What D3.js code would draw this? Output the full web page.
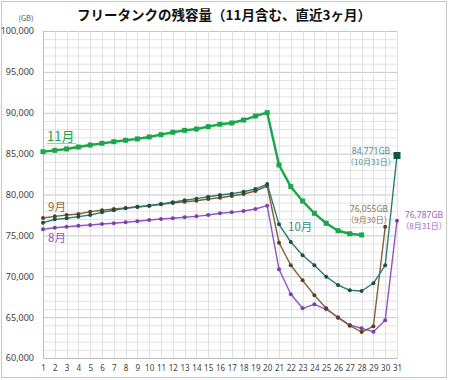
<!DOCTYPE html>
<html>
<head>
<meta charset="utf-8">
<script src="https://cdn.jsdelivr.net/npm/d3@7"></script>
<style>
  body { margin: 0; background: #fff; }
  svg { display: block; font-family: "Noto Sans CJK JP", "Noto Sans", sans-serif; }
</style>
</head>
<body>
<div id="chart"></div>
<script>
// days of the month (category axis)
const days = [1,2,3,4,5,6,7,8,9,10,11,12,13,14,15,16,17,18,19,20,21,22,23,24,25,26,27,28,29,30,31]
const yTicks = [60000, 65000, 70000, 75000, 80000, 85000, 90000, 95000, 100000]

// remaining capacity (GB) per day
const aug = [75740, 75940, 76060, 76180, 76270, 76390, 76480, 76600, 76720, 76880, 77000, 77090, 77210, 77330, 77490, 77700, 77820, 77980, 78230, 78630, 70850, 67790, 66080, 66570, 65960, 64980, 64040, 63630, 63220, 64610, 76787]
const sep = [77130, 77330, 77490, 77610, 77900, 78070, 78230, 78350, 78510, 78630, 78800, 78960, 79120, 79240, 79450, 79610, 79820, 80060, 80430, 81040, 74110, 71340, 69500, 67670, 66080, 64930, 63950, 63180, 63880, 76055]
const oct = [76550, 76960, 77090, 77290, 77490, 77820, 78070, 78310, 78470, 78630, 78840, 79050, 79290, 79490, 79730, 79940, 80100, 80340, 80670, 81280, 76350, 74190, 72560, 71340, 69950, 68930, 68280, 68200, 69140, 71340, 84771]
const nov = [85235, 85400, 85570, 85810, 86050, 86260, 86460, 86630, 86800, 87040, 87320, 87610, 87850, 88010, 88300, 88590, 88750, 89110, 89600, 90010, 83610, 80960, 79200, 77700, 76480, 75570, 75200, 75050]

const title = 'フリータンクの残容量（11月含む、直近3ヶ月）'

const width = 449, height = 380
const margin = {top: 31, right: 51, bottom: 22, left: 43}

const svg = d3.select('#chart').append('svg')
  .attr('width', width)
  .attr('height', height)

// outer border
svg.append('rect')
  .attr('x', 1.5).attr('y', 1.5)
  .attr('width', width - 4).attr('height', height - 4)
  .attr('fill', '#fff')
  .attr('stroke', '#c8c8c8')

const x = d3.scaleLinear().domain([1, 31]).range([margin.left, width - margin.right - 1])
const y = d3.scaleLinear().domain([60000, 100000]).range([height - margin.bottom, margin.top])

// grid
const grid = svg.append('g')
const minor = d3.range(60000, 100001, 1000)
grid.selectAll('line.h')
  .data(minor)
  .enter().append('line')
  .attr('x1', x(1)).attr('x2', x(31))
  .attr('y1', d => y(d) + 0.5).attr('y2', d => y(d) + 0.5)
  .attr('stroke', d => d % 5000 === 0 ? '#c6c6c6' : '#e3e3e3')
  .attr('stroke-width', 1)
grid.selectAll('line.v')
  .data(days)
  .enter().append('line')
  .attr('x1', d => Math.round(x(d)) + 0.5).attr('x2', d => Math.round(x(d)) + 0.5)
  .attr('y1', y(100000)).attr('y2', y(60000))
  .attr('stroke', d => d === 1 ? '#bdbdbd' : '#e0e0e0')

// axes
const yAxis = svg.append('g')
  .attr('transform', 'translate(' + x(1) + ',0)')
  .call(d3.axisLeft(y).tickValues(yTicks).tickSize(0).tickPadding(9).tickFormat(d3.format(',')))
yAxis.select('.domain').remove()
yAxis.selectAll('text').attr('font-size', 9).attr('fill', '#404040').attr('font-family', '"Noto Sans", sans-serif')

const xAxis = svg.append('g')
  .attr('transform', 'translate(0,' + y(60000) + ')')
  .call(d3.axisBottom(x).tickValues(days).tickSize(0).tickPadding(7).tickFormat(d3.format('d')))
xAxis.select('.domain').attr('stroke', '#bdbdbd')
xAxis.selectAll('text').attr('font-size', 8).attr('fill', '#404040').attr('font-family', '"Noto Sans", sans-serif')

// title
svg.append('text')
  .attr('x', 224).attr('y', 20)
  .attr('text-anchor', 'middle')
  .attr('font-size', 13.5).attr('font-weight', 'bold')
  .attr('fill', '#111')
  .text(title)

svg.append('text')
  .attr('x', 26).attr('y', 21)
  .attr('text-anchor', 'middle')
  .attr('font-size', 7.5).attr('fill', '#555')
  .text('(GB)')

const line = d3.line().x((d, i) => x(days[i])).y(d => y(d))

const series = [
  {vals: aug, color: '#9452c2', dot: '#7d3fae', width: 1.4, r: 2},
  {vals: sep, color: '#7f6038', dot: '#5a3f20', width: 1.4, r: 2},
  {vals: oct, color: '#2d7a70', dot: '#1b4f46', width: 1.4, r: 2},
  {vals: nov, color: '#1aa64b', dot: '#1aa64b', width: 2.4, sq: 5}
]

series.forEach(function(s){
  const g = svg.append('g')
  g.append('path')
    .datum(s.vals)
    .attr('d', line)
    .attr('fill', 'none')
    .attr('stroke', s.color)
    .attr('stroke-width', s.width)
    .attr('stroke-linejoin', 'round')
  if (s.sq) {
    g.selectAll('rect')
      .data(s.vals)
      .enter().append('rect')
      .attr('x', (d, i) => x(days[i]) - s.sq / 2)
      .attr('y', d => y(d) - s.sq / 2)
      .attr('width', s.sq).attr('height', s.sq)
      .attr('fill', s.dot)
  } else {
    g.selectAll('circle')
      .data(s.vals)
      .enter().append('circle')
      .attr('cx', (d, i) => x(days[i]))
      .attr('cy', d => y(d))
      .attr('r', s.r)
      .attr('fill', s.dot)
  }
})

// last point of October drawn as a square
svg.append('rect')
  .attr('x', x(31) - 3.5).attr('y', y(oct[30]) - 3.5)
  .attr('width', 7).attr('height', 7)
  .attr('fill', '#0f5448')

// series labels
const labels = [
  {t: '11月', x: 47, y: 141, c: '#1aa64b', s: 13},
  {t: '9月', x: 48, y: 211, c: '#8a6d48', s: 11.5},
  {t: '8月', x: 48, y: 242, c: '#9452c2', s: 11.5},
  {t: '10月', x: 288, y: 231, c: '#3f8a82', s: 11.5}
]
labels.forEach(function(l){
  svg.append('text')
    .attr('x', l.x).attr('y', l.y)
    .attr('font-size', l.s).attr('fill', l.c)
    .text(l.t)
})
svg.append('line')
  .attr('x1', 47).attr('x2', 76).attr('y1', 143.5).attr('y2', 143.5)
  .attr('stroke', '#8fd6a3').attr('stroke-width', 1)

// end-of-month notes
const notes = [
  {v: oct[30], d: '（10月31日）', x: 371, y: 154, c: '#4f8f88'},
  {v: sep[29], d: '（9月30日）', x: 369, y: 212, c: '#8a7355'},
  {v: aug[30], d: '（8月31日）', x: 424, y: 218, c: '#9a5fc6'}
]
notes.forEach(function(n){
  svg.append('text')
    .attr('x', n.x).attr('y', n.y)
    .attr('text-anchor', 'middle')
    .attr('font-size', 8.5).attr('fill', n.c)
    .attr('font-family', '"Noto Sans", sans-serif')
    .text(d3.format(',')(n.v) + 'GB')
  svg.append('text')
    .attr('x', n.x).attr('y', n.y + 10.5)
    .attr('text-anchor', 'middle')
    .attr('font-size', 8).attr('fill', n.c)
    .text(n.d)
})
</script>
</body>
</html>
